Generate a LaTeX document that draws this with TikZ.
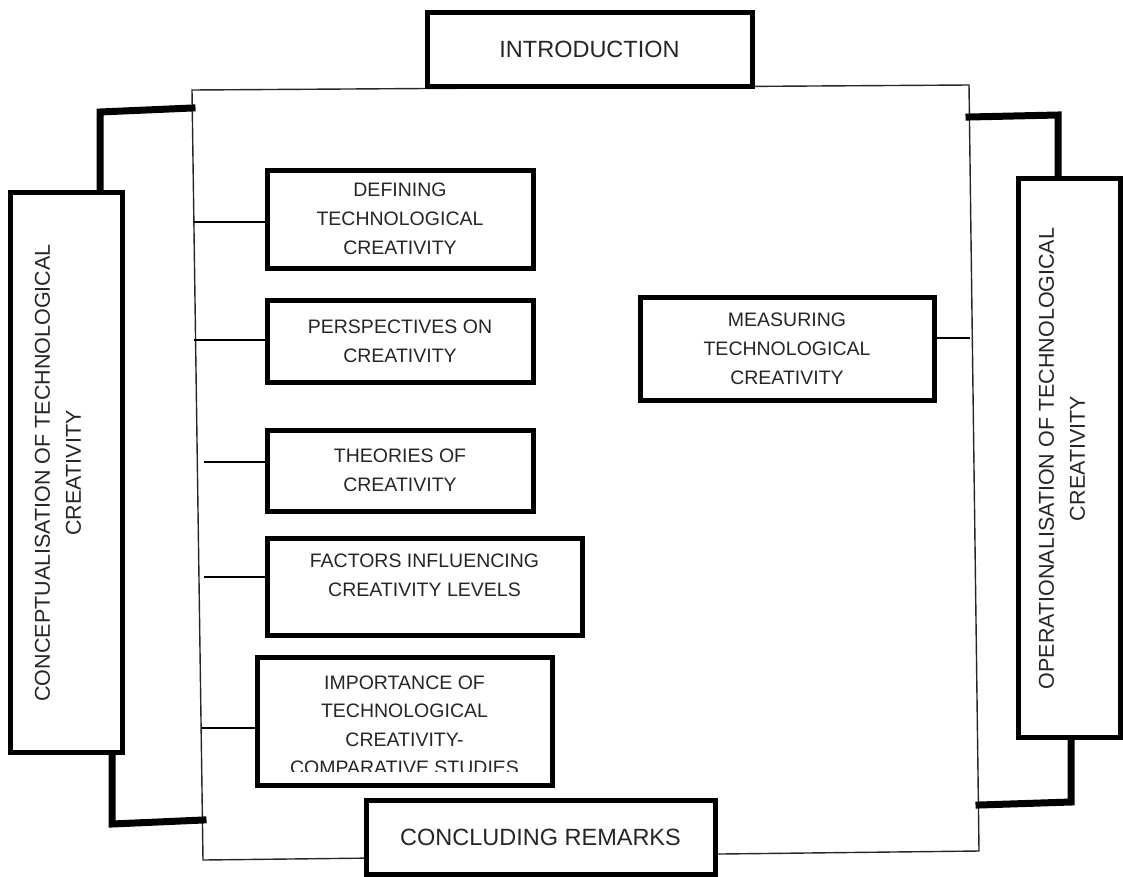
\documentclass[tikz,border=0pt]{standalone}
\usepackage{fontspec}
\setmainfont{Liberation Sans}
\usetikzlibrary{calc}
\begin{document}
\begin{tikzpicture}[x=1pt,y=-1pt,
  box/.style={draw=black,line width=5pt,fill=white,align=center,inner sep=0pt,outer sep=0pt,
    anchor=north west,text=black!85,font=\fontsize{19.5}{29}\selectfont},
  txt/.style={align=center,text=black!85,font=\fontsize{19.5}{29}\selectfont},
  sidetxt/.style={rotate=90,align=center,text=black!85,font=\fontsize{21.5}{31}\selectfont},
  conn/.style={draw=black,line width=1.4pt},
  frame/.style={draw=black!85,line width=1.4pt},
  bracket/.style={draw=black,line width=7pt,line cap=rect,line join=miter}]
\useasboundingbox (0,0) rectangle (1123,876);

% outer frame holding the chapter topics
\coordinate (fTL) at (192,90);
\coordinate (fTR) at (969,85);
\coordinate (fBR) at (979,851);
\coordinate (fBL) at (203,860);
\draw[frame] (fTL) -- (fTR) -- (fBR) -- (fBL) -- cycle;

% side brackets joining the two parts to the frame
\draw[bracket] (100,192) -- (100,112) -- (192,108);
\draw[bracket] (112,752) -- (112,824) -- (203,820);
\draw[bracket] (969,117) -- (1058,115) -- (1058,178);
\draw[bracket] (1071,737) -- (1071,802) -- (979,805);

% top and bottom sections
\node[box,minimum width=325,minimum height=74,font=\fontsize{23.5}{29}\selectfont] (intro) at (427,12) {INTRODUCTION};
\node[box,minimum width=349,minimum height=74,font=\fontsize{23.5}{29}\selectfont] (concl) at (366,800) {CONCLUDING REMARKS};

% the two parts
\node[box,minimum width=112,minimum height=560] (concept) at (10,192) {};
\node[sidetxt] (conceptT) at ($(concept.center)+(-8,1)$)
  {CONCEPTUALISATION OF TECHNOLOGICAL\\CREATIVITY};
\node[box,minimum width=102,minimum height=559] (oper) at (1018,178) {};
\node[sidetxt] (operT) at ($(oper.center)+(-7,1)$)
  {OPERATIONALISATION OF TECHNOLOGICAL\\CREATIVITY};

% topics of the conceptual part
\node[box,minimum width=266,minimum height=98] (def) at (267,170) {DEFINING\\TECHNOLOGICAL\\CREATIVITY};
\node[box,minimum width=266,minimum height=82] (persp) at (267,300) {PERSPECTIVES ON\\CREATIVITY};
\node[box,minimum width=266,minimum height=81] (theo) at (267,430) {THEORIES OF\\CREATIVITY};
\node[box,minimum width=315,minimum height=97] (fact) at (267,538) {};
\node[txt] (factT) at ($(fact.center)+(0,-11)$)
  {FACTORS INFLUENCING\\CREATIVITY LEVELS};
\node[box,minimum width=295,minimum height=128] (imp) at (257,657) {};
\begin{scope}
  \clip (260,660) rectangle (549,771);
  \node[txt,anchor=north,font=\fontsize{19.5}{28.5}\selectfont] (impT) at ($(imp.north)+(0,15)$)
    {IMPORTANCE OF\\TECHNOLOGICAL\\CREATIVITY-\\COMPARATIVE STUDIES};
\end{scope}

% topic of the operational part
\node[box,minimum width=294,minimum height=103] (meas) at (640,297) {MEASURING\\TECHNOLOGICAL\\CREATIVITY};

% links from the frame to each topic
\coordinate (lDef) at (194,222);
\coordinate (lPersp) at (194,340);
\coordinate (lTheo) at (204,462);
\coordinate (lFact) at (204,577);
\coordinate (lImp) at (202,728);
\coordinate (rMeas) at (970,338);
\draw[conn] (lDef) -- (lDef -| def.west);
\draw[conn] (lPersp) -- (lPersp -| persp.west);
\draw[conn] (lTheo) -- (lTheo -| theo.west);
\draw[conn] (lFact) -- (lFact -| fact.west);
\draw[conn] (lImp) -- (lImp -| imp.west);
\draw[conn] (rMeas) -- (rMeas -| meas.east);
\end{tikzpicture}
\end{document}
